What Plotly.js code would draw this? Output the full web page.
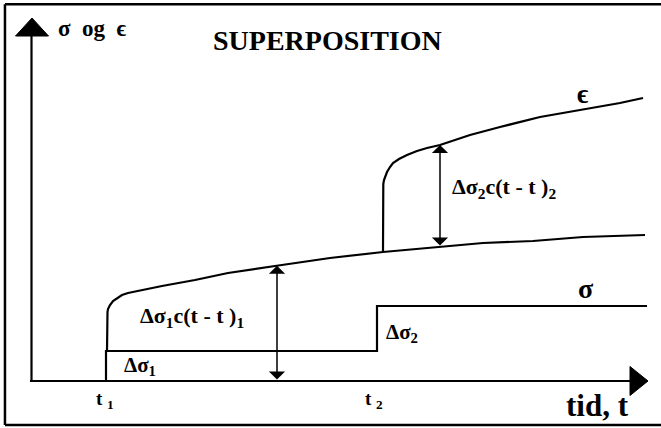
<!DOCTYPE html>
<html>
<head>
<meta charset="utf-8">
<script src="https://cdn.plot.ly/plotly-3.0.1.min.js"></script>
<style>
html,body{margin:0;padding:0;background:#fff;}
#chart{width:661px;height:428px;}
</style>
</head>
<body>
<div id="chart"></div>
<script>
// ---- data (time units, value units) ----
const t1 = 0.75;
const t2 = 3.46;
const tEnd = 6.16;

// stress history sigma(t)
const sigmaT = [t1, t1, t2, t2, tEnd];
const sigmaV = [0.00, 0.30, 0.30, 0.75, 0.75];

// strain response to first load step
const eps1T = [0.76, 0.76, 0.765, 0.77, 0.79, 0.82, 0.86, 0.91, 0.97, 1.04, 1.31, 1.64, 1.97, 2.44, 2.99, 3.52, 4.09, 4.52, 5.02, 5.52, 6.14];
const eps1V = [0.30, 0.66, 0.69, 0.72, 0.76, 0.80, 0.83, 0.86, 0.88, 0.895, 0.95, 1.01, 1.08, 1.15, 1.23, 1.29, 1.34, 1.38, 1.40, 1.44, 1.46];

// total strain after second load step
const eps2T = [3.52, 3.52, 3.523, 3.53, 3.545, 3.56, 3.59, 3.62, 3.68, 3.76, 3.86, 3.96, 4.09, 4.39, 4.69, 5.09, 5.49, 5.89, 6.12];
const eps2V = [1.29, 1.93, 1.97, 2.01, 2.06, 2.09, 2.14, 2.18, 2.22, 2.26, 2.30, 2.33, 2.36, 2.46, 2.54, 2.64, 2.71, 2.78, 2.83];

// dimension arrows: times at which increments are shown
const arrow1T = 2.46;
const arrow2T = 4.09;

// axes extents
const xAxisEnd = 5.99, yAxisEnd = 3.45;

const labels = {
  yTitle: "σ\u00a0\u00a0og\u00a0\u00a0ϵ",
  title: "SUPERPOSITION",
  eps: "ϵ",
  sigma: "σ",
  xTitle: "tid, t",
  t1: "t <sub>1</sub>",
  t2: "t <sub>2</sub>",
  dS1: "Δσ<sub>1</sub>",
  dS2: "Δσ<sub>2</sub>",
  dE1: "Δσ<sub>1</sub>c(t - t )<sub>1</sub>",
  dE2: "Δσ<sub>2</sub>c(t - t )<sub>2</sub>"
};

// ---- traces ----
const lineStyle = {color: '#000', width: 2.2};
const traces = [
  {x: sigmaT, y: sigmaV, mode: 'lines', line: lineStyle, hoverinfo: 'skip'},
  {x: eps1T, y: eps1V, mode: 'lines', line: lineStyle, hoverinfo: 'skip'},
  {x: eps2T, y: eps2V, mode: 'lines', line: lineStyle, hoverinfo: 'skip'}
];

function interp(xs, ys, x) {
  for (let i = 1; i < xs.length; i++) {
    if (x <= xs[i] && xs[i] > xs[i-1]) {
      const f = (x - xs[i-1]) / (xs[i] - xs[i-1]);
      return ys[i-1] + f * (ys[i] - ys[i-1]);
    }
  }
  return ys[ys.length-1];
}
const a1Top = interp(eps1T, eps1V, arrow1T);
const a2Bot = interp(eps1T, eps1V, arrow2T);
const a2Top = interp(eps2T, eps2V, arrow2T);

function txt(x, y, text, size) {
  return {x: x, y: y, xref: 'x', yref: 'y', text: '<b>' + text + '</b>', showarrow: false,
          font: {family: 'Liberation Serif', size: size, color: '#000'}, xanchor: 'left', yanchor: 'middle'};
}
function dimArrow(x, yTop, yBot) {
  return {x: x, y: yTop, ax: x, ay: yBot, xref: 'x', yref: 'y', axref: 'x', ayref: 'y',
          text: '', showarrow: true, arrowhead: 1, startarrowhead: 1, arrowside: 'end+start',
          arrowwidth: 1.5, arrowsize: 1.8, startarrowsize: 1.8, arrowcolor: '#000', standoff: 0, startstandoff: 0};
}

const annotations = [
  txt(0.25, 3.53, labels.yTitle, 23),
  txt(1.80, 3.41, labels.title, 28),
  txt(5.44, 2.87, labels.eps, 27),
  txt(5.45, 0.93, labels.sigma, 28),
  txt(5.33, -0.24, labels.xTitle, 31),
  txt(0.63, -0.19, labels.t1, 19),
  txt(3.32, -0.19, labels.t2, 19),
  txt(0.91, 0.15, labels.dS1, 21),
  txt(3.53, 0.48, labels.dS2, 21),
  txt(1.07, 0.64, labels.dE1, 22),
  txt(4.19, 1.93, labels.dE2, 22),
  dimArrow(arrow1T, a1Top, 0),
  dimArrow(arrow2T, a2Top, a2Bot)
];

const shapes = [
  // frame (right side runs off the picture)
  {type: 'line', xref: 'paper', yref: 'paper', x0: 0.0075, x1: 0.0075, y0: 0.007, y1: 0.99, line: {color: '#000', width: 2.5}},
  {type: 'line', xref: 'paper', yref: 'paper', x0: 0.0075, x1: 1.01, y0: 0.99, y1: 0.99, line: {color: '#000', width: 2.5}},
  {type: 'line', xref: 'paper', yref: 'paper', x0: 0.0075, x1: 1.01, y0: 0.007, y1: 0.007, line: {color: '#000', width: 2.5}},
  // axes with arrow heads
  {type: 'line', xref: 'x', yref: 'y', x0: -0.01, x1: xAxisEnd, y0: 0, y1: 0, line: {color: '#000', width: 2.2}},
  {type: 'line', xref: 'x', yref: 'y', x0: 0.005, x1: 0.005, y0: 0, y1: yAxisEnd, line: {color: '#000', width: 2.2}},
  {type: 'path', xref: 'x', yref: 'y',
   path: `M ${xAxisEnd} -0.145 L ${xAxisEnd + 0.18} 0 L ${xAxisEnd} 0.145 Z`, fillcolor: '#000', line: {color: '#000', width: 1}},
  {type: 'path', xref: 'x', yref: 'y',
   path: `M -0.155 ${yAxisEnd} L 0.01 ${yAxisEnd + 0.18} L 0.175 ${yAxisEnd} Z`, fillcolor: '#000', line: {color: '#000', width: 1}}
];

const layout = {
  width: 661, height: 428,
  margin: {l: 0, r: 0, t: 0, b: 0},
  paper_bgcolor: '#fff', plot_bgcolor: '#fff',
  showlegend: false,
  xaxis: {range: [-0.31, 6.30], visible: false, fixedrange: true},
  yaxis: {range: [-0.47, 3.81], visible: false, fixedrange: true},
  annotations: annotations,
  shapes: shapes
};

Plotly.newPlot('chart', traces, layout, {displayModeBar: false, staticPlot: true});
</script>
</body>
</html>
